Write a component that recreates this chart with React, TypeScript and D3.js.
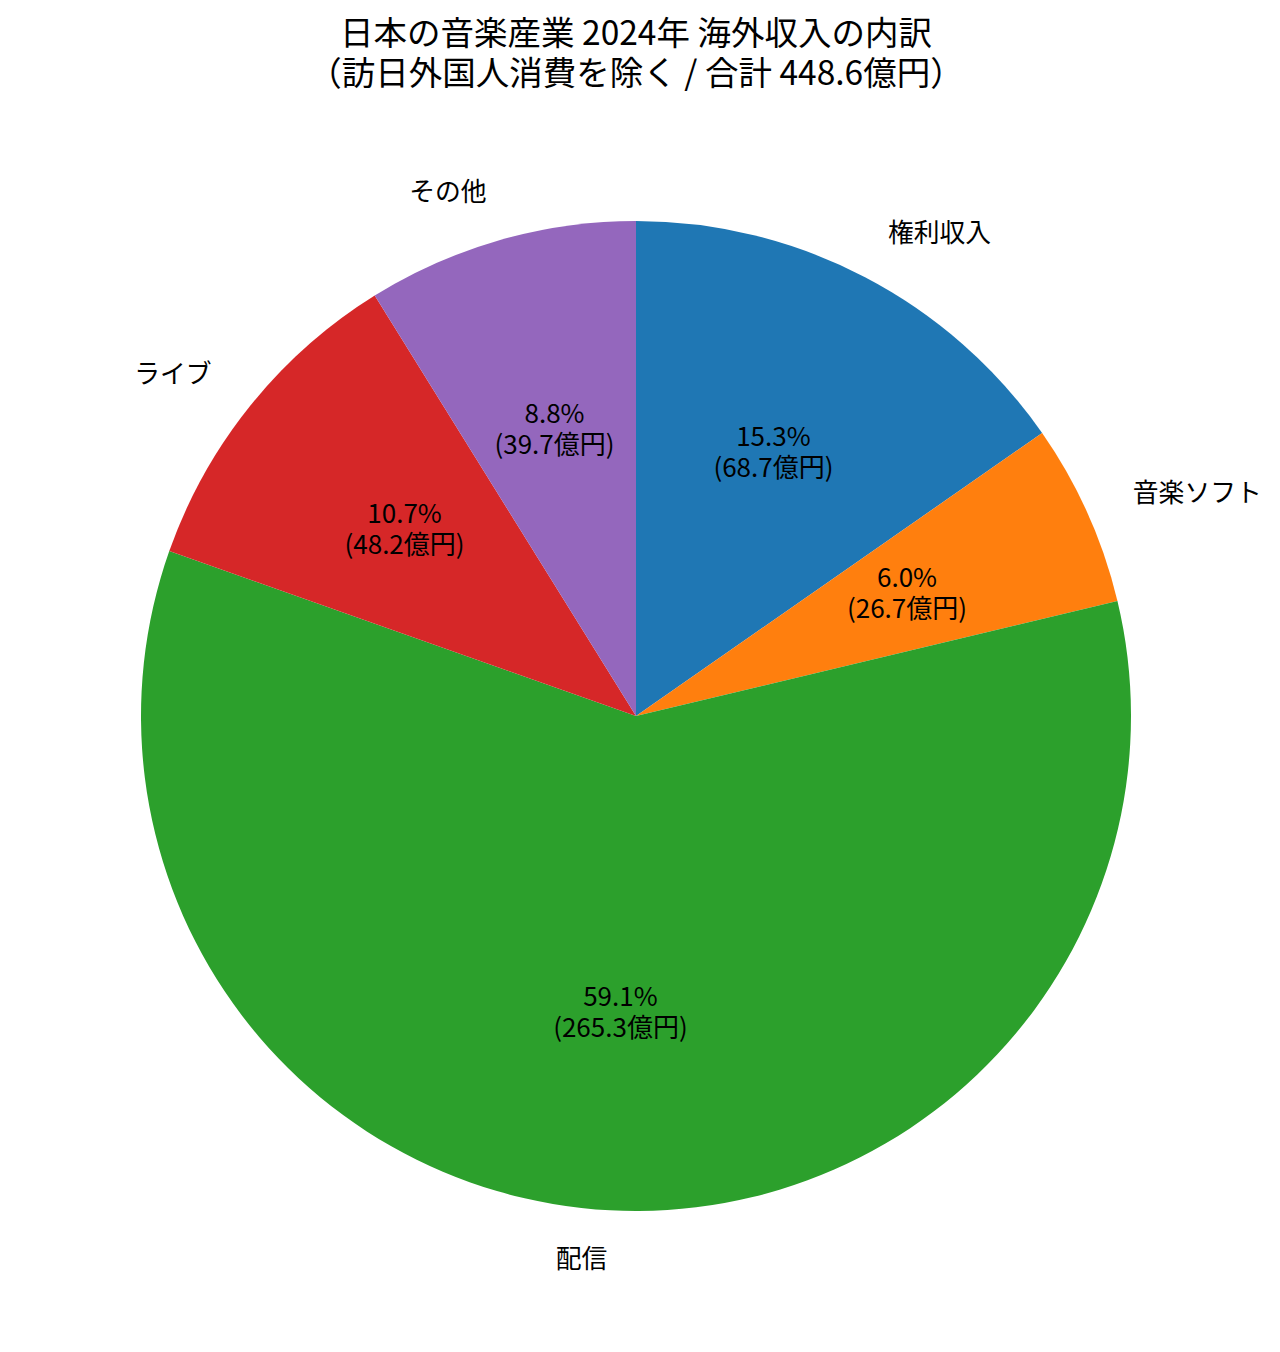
import React from "react";
import * as d3 from "d3";

// 2024年 海外収入の内訳（億円）
const categories = ["権利収入", "音楽ソフト", "配信", "ライブ", "その他"];
const values = [68.7, 26.7, 265.3, 48.2, 39.7];
const colors = ["#1f77b4", "#ff7f0e", "#2ca02c", "#d62728", "#9467bd"];
const titleLines = [
  "日本の音楽産業 2024年 海外収入の内訳",
  "（訪日外国人消費を除く / 合計 448.6億円）",
];

const FONT = "'Noto Sans CJK JP', 'Noto Sans', sans-serif";

const App: React.FC = () => {
  const width = 1280;
  const height = 1352;
  const cx = 636;
  const cy = 716;
  const radius = 495;
  const shift = -3; // matplotlib centres on the glyph box, a touch higher

  const total = d3.sum(values);
  const rows = categories.map((name, i) => ({ name, value: values[i], color: colors[i] }));

  // clockwise from 12 o'clock, keep input order
  const pie = d3.pie<(typeof rows)[number]>().value((d) => d.value).sort(null);
  const arcs = pie(rows);
  const arc = d3.arc<d3.PieArcDatum<(typeof rows)[number]>>().innerRadius(0).outerRadius(radius);

  const polar = (a: number, r: number) => [r * Math.sin(a), -r * Math.cos(a)];

  return (
    <div style={{ position: "absolute", left: 0, top: 0 }}>
      <svg width={width} height={height} style={{ display: "block", background: "#fff" }} fontFamily={FONT}>
        {titleLines.map((t, i) => (
          <text
            key={i}
            x={cx}
            y={30 + i * 40}
            textAnchor="middle"
            dominantBaseline="central"
            fontSize={33.5}
            fill="#000"
          >
            {t}
          </text>
        ))}
        <g transform={`translate(${cx},${cy})`}>
          {arcs.map((a, i) => (
            <path key={i} d={arc(a) || ""} fill={a.data.color} />
          ))}
          {arcs.map((a, i) => {
            const mid = (a.startAngle + a.endAngle) / 2;
            const [lx, ly] = polar(mid, radius * 1.1);
            const [px, py] = polar(mid, radius * 0.6);
            const pct = ((a.data.value / total) * 100).toFixed(1);
            return (
              <g key={i}>
                <text
                  x={lx}
                  y={ly + shift}
                  textAnchor={lx >= 0 ? "start" : "end"}
                  dominantBaseline="central"
                  fontSize={25.8}
                  fill="#000"
                >
                  {a.data.name}
                </text>
                <text textAnchor="middle" dominantBaseline="central" fontSize={26} fill="#000">
                  <tspan x={px} y={py - 16 + shift}>{pct}%</tspan>
                  <tspan x={px} y={py + 15 + shift}>({a.data.value.toFixed(1)}億円)</tspan>
                </text>
              </g>
            );
          })}
        </g>
      </svg>
    </div>
  );
};

export default App;
